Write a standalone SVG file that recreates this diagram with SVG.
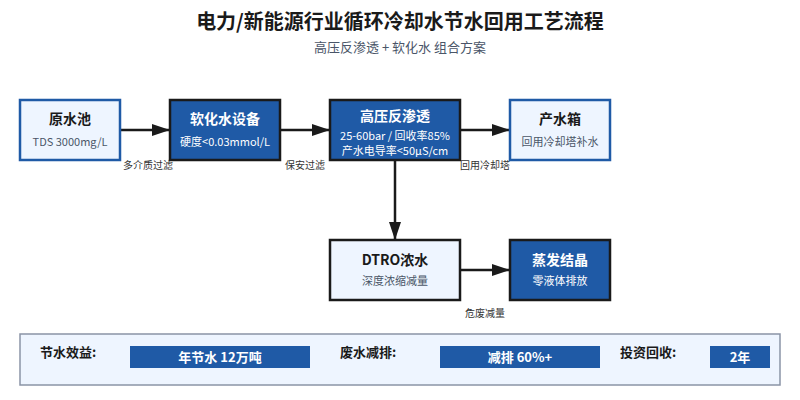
<svg xmlns="http://www.w3.org/2000/svg" width="800" height="400" viewBox="0 0 800 400">
<style>
text{font-family:"Noto Sans CJK SC","Noto Sans",sans-serif}
.title{font-size:20px;font-weight:bold;fill:#1a1a1a;text-anchor:middle}
.subtitle{font-size:13px;fill:#4a5568;text-anchor:middle}
.light rect{fill:#eef5ff}
.blue rect{fill:#1f5aa6}
.sb rect{stroke:#1f5aa6;stroke-width:2.5}
.sd rect{stroke:#1a1a1a;stroke-width:2.5}
.nt{font-size:14px;font-weight:bold;text-anchor:middle}
.ns{font-size:11px;text-anchor:middle}
.light .nt{fill:#1a1a1a}
.light .ns{fill:#4a5568}
.blue .nt,.blue .ns{fill:#ffffff}
.conn line{stroke:#1a1a1a;stroke-width:2.5;fill:none}
.el{font-size:10px;fill:#333333;text-anchor:middle}
.bl{font-size:13px;font-weight:bold;fill:#1a1a1a}
.bar{fill:#1f5aa6}
.bt{font-size:13px;font-weight:bold;fill:#ffffff;text-anchor:middle}
</style>
<defs>
<marker id="arr" markerWidth="18" markerHeight="12" refX="18" refY="6" orient="auto" markerUnits="userSpaceOnUse">
<path d="M0,0 L18,6 L0,12 Z" fill="#1a1a1a"/>
</marker>
</defs>
<rect width="800" height="400" fill="#ffffff"/>
<text class="title" x="400" y="29">电力/新能源行业循环冷却水节水回用工艺流程</text>
<text class="subtitle" x="400" y="52">高压反渗透 + 软化水 组合方案</text>

<g id="conn" class="conn">
<line x1="120" y1="130" x2="170" y2="130" marker-end="url(#arr)"/>
<line x1="280" y1="130" x2="330" y2="130" marker-end="url(#arr)"/>
<line x1="460" y1="130" x2="510" y2="130" marker-end="url(#arr)"/>
<line x1="395" y1="160" x2="395" y2="240" marker-end="url(#arr)"/>
<line x1="460" y1="270" x2="510" y2="270" marker-end="url(#arr)"/>
<text class="el" x="148" y="169">多介质过滤</text>
<text class="el" x="305" y="169">保安过滤</text>
<text class="el" x="485" y="169">回用冷却塔</text>
<text class="el" x="485" y="317">危废减量</text>
</g>

<g id="n1" class="light sb">
<rect x="20" y="100" width="100" height="60"/>
<text class="nt" x="70" y="124">原水池</text>
<text class="ns" x="70" y="146">TDS 3000mg/L</text>
</g>
<g id="n2" class="blue sd">
<rect x="170" y="100" width="110" height="60"/>
<text class="nt" x="225" y="124">软化水设备</text>
<text class="ns" x="225" y="146">硬度&lt;0.03mmol/L</text>
</g>
<g id="n3" class="blue sd">
<rect x="330" y="100" width="130" height="60"/>
<text class="nt" x="395" y="121">高压反渗透</text>
<text class="ns" x="395" y="140">25-60bar / 回收率85%</text>
<text class="ns" x="395" y="155">产水电导率&lt;50μS/cm</text>
</g>
<g id="n4" class="light sb">
<rect x="510" y="100" width="100" height="60"/>
<text class="nt" x="560" y="124">产水箱</text>
<text class="ns" x="560" y="146">回用冷却塔补水</text>
</g>
<g id="n5" class="light sd">
<rect x="330" y="240" width="130" height="60"/>
<text class="nt" x="395" y="265">DTRO浓水</text>
<text class="ns" x="395" y="285">深度浓缩减量</text>
</g>
<g id="n6" class="blue sd">
<rect x="510" y="240" width="100" height="60"/>
<text class="nt" x="560" y="265">蒸发结晶</text>
<text class="ns" x="560" y="285">零液体排放</text>
</g>

<g id="summary">
<rect x="20" y="334" width="760" height="51" fill="#eef5ff" stroke="#8a94a6" stroke-width="1.5"/>
<text class="bl" x="40" y="357">节水效益:</text>
<rect class="bar" x="130" y="346" width="180" height="22"/>
<text class="bt" x="220" y="362">年节水 12万吨</text>
<text class="bl" x="340" y="357">废水减排:</text>
<rect class="bar" x="440" y="346" width="160" height="22"/>
<text class="bt" x="520" y="362">减排 60%+</text>
<text class="bl" x="620" y="357">投资回收:</text>
<rect class="bar" x="710" y="346" width="60" height="22"/>
<text class="bt" x="740" y="362">2年</text>
</g>
</svg>
